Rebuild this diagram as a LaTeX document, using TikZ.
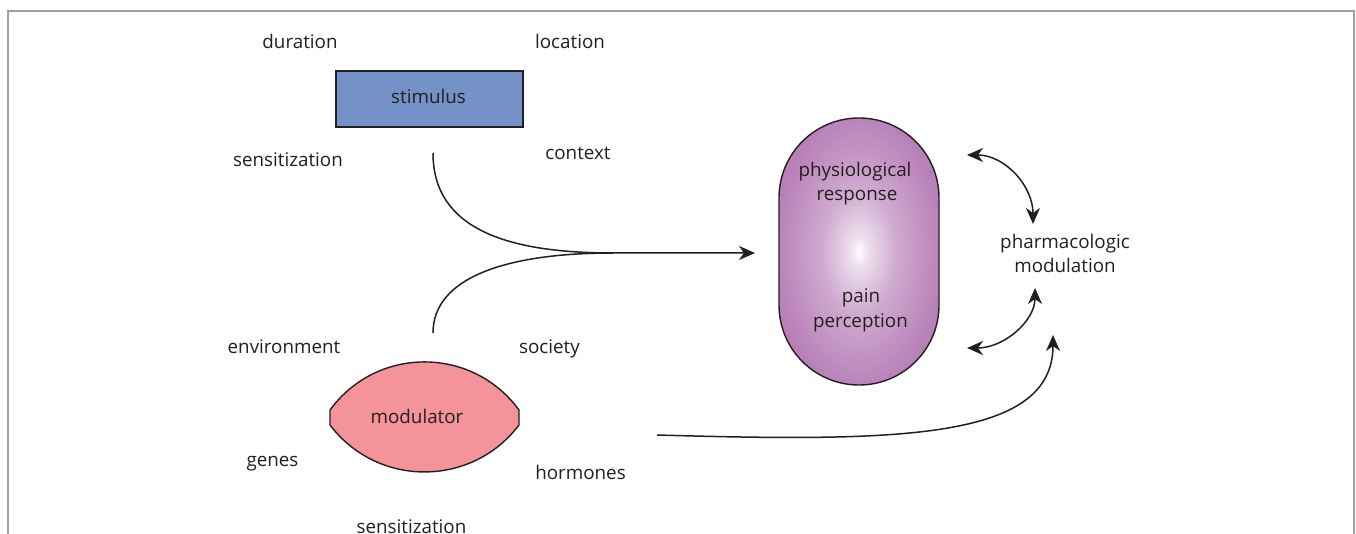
\documentclass[tikz,border=0pt]{standalone}
\usepackage{fontspec}
\setmainfont{Open Sans}
\usetikzlibrary{arrows.meta}
\definecolor{stimc}{HTML}{7491C8}
\definecolor{modc}{HTML}{F4939A}
\definecolor{pillc}{HTML}{B57AB5}
\definecolor{txt}{HTML}{231F20}
\definecolor{framec}{HTML}{A0A0A0}
\pgfdeclareradialshading{pillshade}{\pgfpoint{0bp}{0bp}}{color(0bp)=(white); color(3bp)=(pillc!25!white); color(12bp)=(pillc!65!white); color(26bp)=(pillc!95!white); color(32bp)=(pillc); color(50bp)=(pillc)}
\tikzset{
  lbl/.style={anchor=base, inner sep=0pt, text=txt, font=\fontsize{18.8}{24}\selectfont},
  outl/.style={draw=txt, line width=1.4pt},
  conn/.style={draw=txt, line width=1.5pt, -{Stealth[length=16pt,width=14pt,inset=5pt]}},
  dconn/.style={draw=txt, line width=1.5pt, {Stealth[length=16pt,width=14pt,inset=5pt]}-{Stealth[length=16pt,width=14pt,inset=5pt]}},
}
\begin{document}
\begin{tikzpicture}[x=1pt,y=-1pt]
\useasboundingbox (0,0) rectangle (1356,534);
\fill[white] (0,0) rectangle (1356,534);
\draw[framec, line width=1.4pt] (8,11) rectangle (1354,570);

% stimulus
\node[outl, fill=stimc, minimum width=187pt, minimum height=56pt, inner sep=0pt] (stimulus) at (429.5,99) {};
\node[lbl] (stimtext) at (428.5,104) {stimulus};
\node[lbl] (duration) at (300,49) {duration};
\node[lbl] (location) at (570,49) {location};
\node[lbl] (sens1) at (288,167) {sensitization};
\node[lbl] (context) at (578,160) {context};

% modulator lens
\path[outl, fill=modc] (330,410) .. controls (376.8,345.9) and (472.2,345.9) .. (519,410)
  -- (519,425) .. controls (471.6,487.6) and (377.4,487.6) .. (330,425) -- cycle;
\node[lbl] (modulator) at (417,423) {modulator};
\node[lbl] (environment) at (284,353) {environment};
\node[lbl] (society) at (549.5,353) {society};
\node[lbl] (genes) at (272.5,466) {genes};
\node[lbl] (hormones) at (580.5,479) {hormones};
\node[lbl] (sens2) at (411.5,533) {sensitization};

% pill
\node[outl, shading=pillshade, minimum width=160pt, minimum height=267pt, inner sep=0pt, rounded corners=79.9pt] (pill) at (859,251.5) {};
\node[lbl] (phys1) at (855,177) {physiological};
\node[lbl] (phys2) at (857,201) {response};
\node[lbl] (pain1) at (861,303) {pain};
\node[lbl] (pain2) at (860.5,327) {perception};

\node[lbl] (pharma1) at (1065,249) {pharmacologic};
\node[lbl] (pharma2) at (1065,273) {modulation};

% connectors
\coordinate (s1) at (433,153);
\coordinate (m1) at (433,333);
\coordinate (merge) at (613,253);
\coordinate (tip) at (755,253);
\draw[conn] (s1) .. controls (433,228) and (505,253) .. (merge) -- (tip);
\draw[draw=txt, line width=1.5pt] (m1) .. controls (433,278) and (505,253) .. (merge);

\coordinate (pt1) at (967,155);
\coordinate (pm1) at (1033,224);
\coordinate (pt2) at (967,348);
\coordinate (pm2) at (1035,288);
\coordinate (lm) at (657,435);
\coordinate (pm3) at (1053,335);
\draw[dconn] (pt1) .. controls (1005,155) and (1033,186) .. (pm1);
\draw[dconn] (pt2) .. controls (1004,348) and (1035,321) .. (pm2);
\draw[conn] (lm) .. controls (900,442) and (1053,440) .. (pm3);
\end{tikzpicture}
\end{document}
